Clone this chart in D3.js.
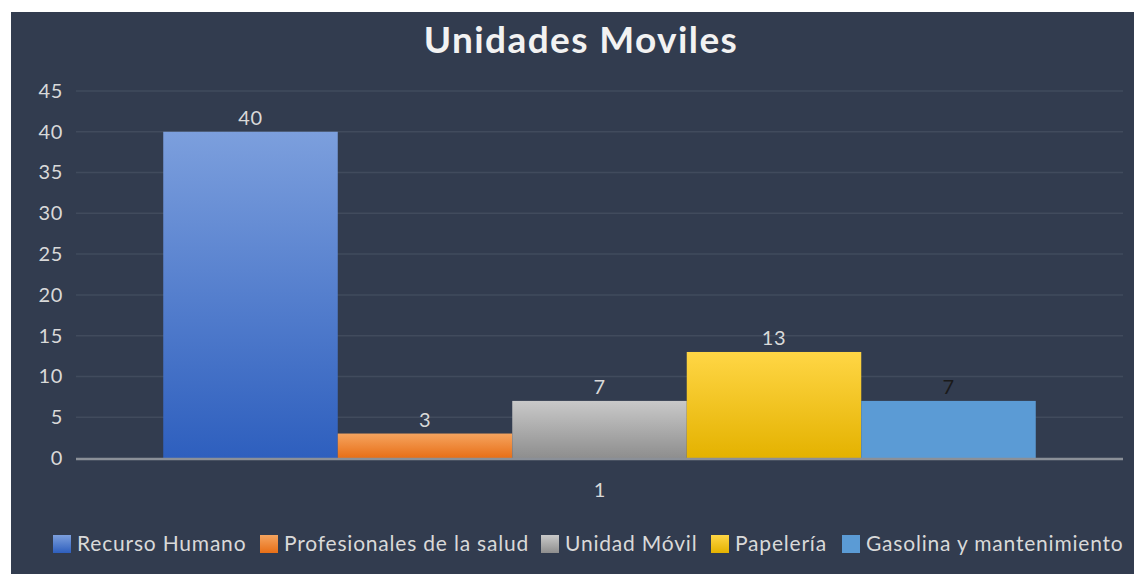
<!DOCTYPE html>
<html>
<head>
<meta charset="utf-8">
<script src="https://cdn.jsdelivr.net/npm/d3@7"></script>
<style>
  body { margin: 0; background: #fff; }
  svg { display: block; font-family: Lato, 'Open Sans', sans-serif; }
</style>
</head>
<body>
<div id="chart"></div>
<script>
const categories = ['1']
const seriesNames = ['Recurso Humano', 'Profesionales de la salud', 'Unidad Móvil', 'Papelería', 'Gasolina y mantenimiento']
const seriesValues = [40, 3, 7, 13, 7]
const yTicks = [0, 5, 10, 15, 20, 25, 30, 35, 40, 45]

// top/bottom gradient stops per series
const seriesColors = [
  ['#7c9fdd', '#2e5fbe'],
  ['#f5a45f', '#e86f17'],
  ['#c9c9c9', '#8e8e8e'],
  ['#ffd645', '#e4b200'],
  ['#5b9bd5', '#5b9bd5'],
]
const labelColors = ['#d9d9d9', '#d9d9d9', '#d9d9d9', '#d9d9d9', '#1a1a1a']

const width = 1134
const height = 574
const panel = { x: 11, y: 12 }
const plot = { left: 76, right: 1123, top: 91, bottom: 458 }

const svg = d3.select('#chart').append('svg')
  .attr('width', width)
  .attr('height', height)

const defs = svg.append('defs')
seriesColors.forEach((c, i) => {
  const g = defs.append('linearGradient')
    .attr('id', `grad-${i}`)
    .attr('x1', 0).attr('y1', 0).attr('x2', 0).attr('y2', 1)
  g.append('stop').attr('offset', '0%').attr('stop-color', c[0])
  g.append('stop').attr('offset', '100%').attr('stop-color', c[1])
})

svg.append('rect')
  .attr('x', panel.x).attr('y', panel.y)
  .attr('width', width - panel.x).attr('height', height - panel.y)
  .attr('fill', '#323c4f')

svg.append('text')
  .attr('x', 581).attr('y', 53)
  .attr('text-anchor', 'middle')
  .attr('fill', '#f2f2f2')
  .attr('font-size', 37)
  .attr('font-weight', 700)
  .attr('letter-spacing', 1.4)
  .text('Unidades Moviles')

const y = d3.scaleLinear().domain([0, 45]).range([plot.bottom, plot.top])
const x0 = d3.scaleBand().domain(categories).range([plot.left, plot.right]).paddingInner(0).paddingOuter(0.1)
const x1 = d3.scaleBand().domain(seriesNames).range([0, x0.bandwidth()])

// gridlines
svg.append('g')
  .selectAll('line')
  .data(yTicks.filter(d => d > 0))
  .join('line')
  .attr('x1', plot.left).attr('x2', plot.right)
  .attr('y1', d => y(d)).attr('y2', d => y(d))
  .attr('stroke', '#414b5d')
  .attr('stroke-width', 1.5)

// y axis labels
const yAxis = svg.append('g')
  .attr('transform', `translate(${plot.left - 13},0)`)
  .call(d3.axisLeft(y).tickValues(yTicks).tickSize(0).tickPadding(0))
yAxis.select('.domain').remove()
yAxis.selectAll('text')
  .attr('fill', '#d9d9d9')
  .attr('font-size', 20)
  .attr('letter-spacing', 0.6)
  .attr('font-family', 'Lato, sans-serif')

// bars
const groups = svg.append('g')
  .selectAll('g')
  .data(categories)
  .join('g')
  .attr('transform', d => `translate(${x0(d)},0)`)

const cells = groups.selectAll('g')
  .data(() => seriesNames.map((name, i) => ({ name, value: seriesValues[i], i })))
  .join('g')

cells.append('rect')
  .attr('x', d => x1(d.name))
  .attr('y', d => y(d.value))
  .attr('width', x1.bandwidth())
  .attr('height', d => y(0) - y(d.value))
  .attr('fill', d => `url(#grad-${d.i})`)

cells.append('text')
  .attr('x', d => x1(d.name) + x1.bandwidth() / 2)
  .attr('y', d => y(d.value) - 7)
  .attr('text-anchor', 'middle')
  .attr('fill', d => labelColors[d.i])
  .attr('font-size', 20)
  .attr('letter-spacing', 0.6)
  .text(d => d.value)

// baseline axis
svg.append('line')
  .attr('x1', plot.left).attr('x2', plot.right)
  .attr('y1', y(0) + 1).attr('y2', y(0) + 1)
  .attr('stroke', '#8b9098')
  .attr('stroke-width', 2.5)

// category label
svg.append('g')
  .selectAll('text')
  .data(categories)
  .join('text')
  .attr('x', d => x0(d) + x0.bandwidth() / 2)
  .attr('y', 497)
  .attr('text-anchor', 'middle')
  .attr('fill', '#d9d9d9')
  .attr('font-size', 20)
  .text(d => d)

// legend
const legendStarts = [53, 260, 541, 711, 842]
const legend = svg.append('g')
const items = legend.selectAll('g')
  .data(seriesNames)
  .join('g')
  .attr('transform', (d, i) => `translate(${legendStarts[i]},535)`)
items.append('rect')
  .attr('width', 18).attr('height', 18)
  .attr('fill', (d, i) => `url(#grad-${i})`)
items.append('text')
  .attr('x', 24).attr('y', 16)
  .attr('fill', '#d9d9d9')
  .attr('font-size', 21)
  .attr('letter-spacing', 0.8)
  .text(d => d)
</script>
</body>
</html>
